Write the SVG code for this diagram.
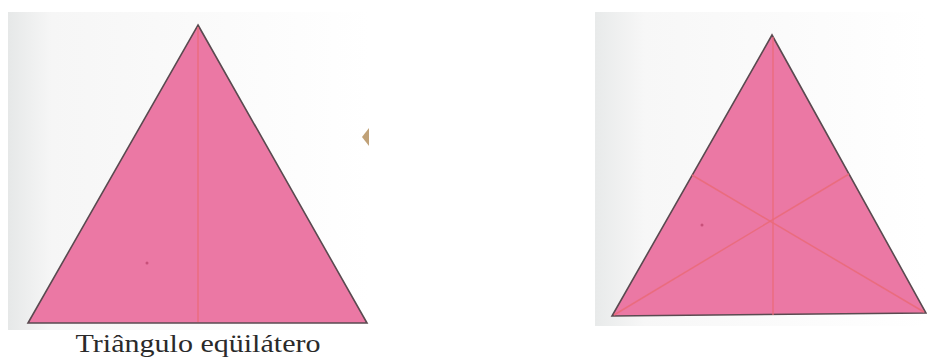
<svg xmlns="http://www.w3.org/2000/svg" width="927" height="358" viewBox="0 0 927 358">
<defs>
<linearGradient id="scanL" x1="0" y1="0" x2="1" y2="0">
<stop offset="0" stop-color="#e6e8e8"/>
<stop offset="0.12" stop-color="#f6f6f6"/>
<stop offset="1" stop-color="#ffffff"/>
</linearGradient>
<linearGradient id="scanR" x1="0" y1="0" x2="1" y2="0">
<stop offset="0" stop-color="#e8eaea"/>
<stop offset="0.15" stop-color="#f7f7f7"/>
<stop offset="1" stop-color="#ffffff"/>
</linearGradient>
<style>
.tri{fill:#eb78a4;stroke:#5a4a50;stroke-width:1.6;stroke-linejoin:miter}
.med{stroke:#ea6a78;stroke-width:1.5;fill:none;opacity:0.85}
.lbl{font-family:"Liberation Serif","DejaVu Serif",serif;font-size:25px;fill:#2a2a2a}
.dot{fill:#c8507a}
</style>
</defs>
<rect width="927" height="358" fill="#ffffff"/>
<rect x="8" y="12" width="362" height="318" fill="url(#scanL)"/>
<rect x="595" y="12" width="332" height="314" fill="url(#scanR)"/>
<g id="triangle-left">
<polygon class="tri" points="198,25 367,323 28,323"/>
<line class="med" x1="198" y1="27" x2="198" y2="322"/>
<circle class="dot" cx="147" cy="263" r="1.5"/>
</g>
<g id="label-left">
<text class="lbl" x="198" y="352" text-anchor="middle" textLength="245" lengthAdjust="spacingAndGlyphs">Triângulo eqüilátero</text>
</g>
<g id="mark">
<polygon points="369,128 362,137 369,146" fill="#b08a55" opacity="0.8"/>
</g>
<g id="triangle-right">
<polygon class="tri" points="772,35 926,313 612,316"/>
<g id="connectors">
<line class="med" x1="773" y1="37" x2="773" y2="315"/>
<line class="med" x1="614" y1="315" x2="849" y2="174"/>
<line class="med" x1="924" y1="312" x2="692" y2="175"/>
</g>
<circle class="dot" cx="702" cy="225" r="1.5"/>
</g>
</svg>
